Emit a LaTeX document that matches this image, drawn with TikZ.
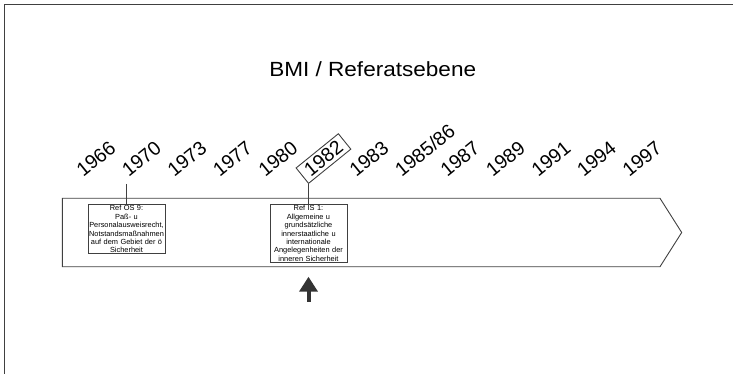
\documentclass[tikz,border=0pt]{standalone}
\usepackage{fontspec}
\setmainfont{Liberation Sans}
\usetikzlibrary{positioning, arrows.meta}

\begin{document}
\begin{tikzpicture}[x=1pt, y=-1pt,
    line/.style={draw=black!75, line width=0.9pt},
    year/.style={rotate=39, anchor=south west, inner xsep=5.5pt, inner ysep=3pt,
                 font=\fontsize{19.5}{19.5}\selectfont},
    yearbox/.style={year, line},
    ref/.style={line, text width=75pt, align=center, inner xsep=1pt, inner ysep=1pt,
                font=\fontsize{7.4}{8.4}\selectfont},
    pointer/.style={-{Triangle[width=18pt,length=15pt]}, line width=4pt, draw=black!80, fill=black!80}]
      \useasboundingbox (0,0) rectangle (733,374);
      \draw[line] (4,374) -- (4,4) -- (733,4);

      \node[anchor=base, xscale=1.1, font=\fontsize{20.5}{20.5}\selectfont] (title) at (372.7,77) {BMI / Referatsebene};

      \draw[line] (62.3,198.3) -- (660,198.3) -- (681.7,232.5) -- (660,266.7) -- (62.3,266.7) -- cycle;

      \foreach \yr/\sty [count=\i from 0] in {1966/year, 1970/year, 1973/year, 1977/year, 1980/year,
          1982/yearbox, 1983/year, {1985/86}/year, 1987/year, 1989/year, 1991/year, 1994/year, 1997/year}
        \node[\sty] (yr_\i) at ({81+45.5*\i},184) {\yr};

      \node[ref] (os9) [below=20pt of yr_1.south west] {Ref OS 9:\\ Paß- u\\ Personalausweisrecht,\\
          Notstandsmaßnahmen\\ auf dem Gebiet der ö\\ Sicherheit};
      \node[ref] (is1) [below=20pt of yr_5.south west] {Ref IS 1:\\ Allgemeine u\\ grundsätzliche\\
          innerstaatliche u\\ internationale\\ Angelegenheiten der\\ inneren Sicherheit};

      \draw[line] (yr_1.south west) -- (os9.north);
      \draw[line] (yr_5.south west) -- (is1.north);

      \coordinate[below=14pt of is1.south] (tip);
      \coordinate[below=39pt of is1.south] (tail);
      \draw[pointer] (tail) -- (tip);
\end{tikzpicture}
\end{document}
